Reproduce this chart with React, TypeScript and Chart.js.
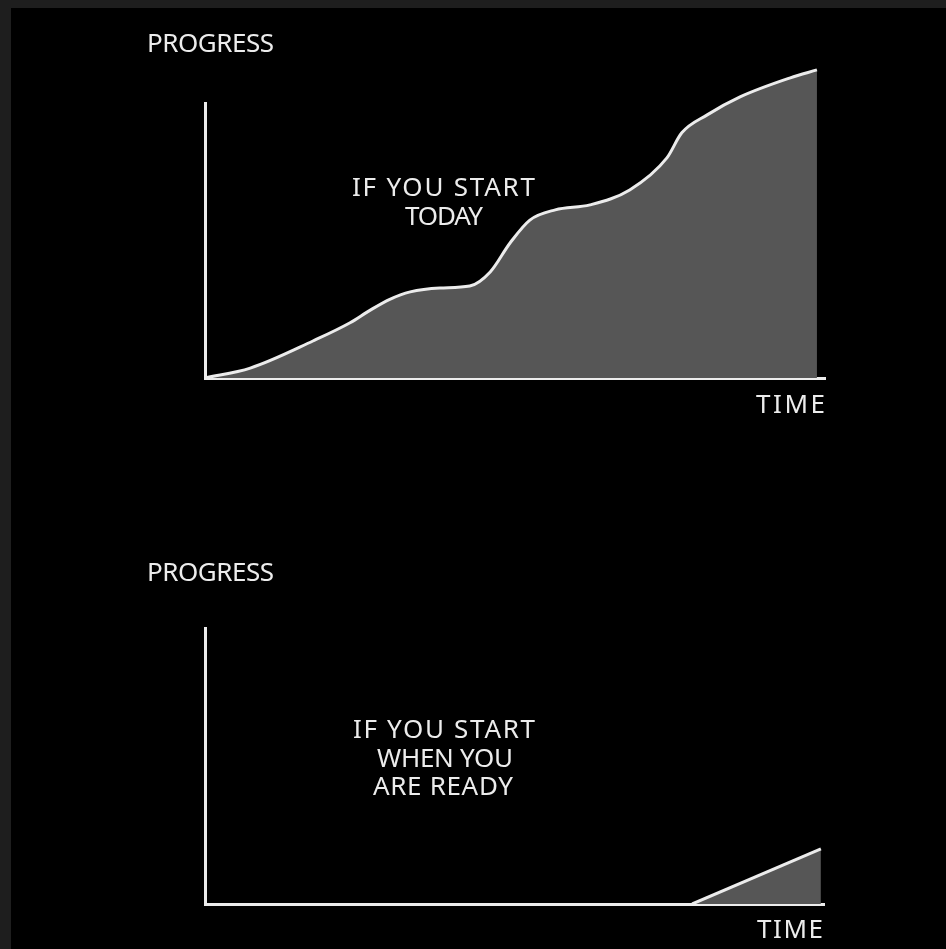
import { useEffect, useRef } from 'react';
import { Chart, registerables } from 'chart.js';

Chart.register(...registerables);

// ---- data (x: time 0..100, y: progress; axis line drawn up to 100) ----
const todayTime = [0, 7.3, 17.4, 23.4, 26.6, 29.8, 33.1, 37.9, 42.7, 46.0, 49.2, 52.4, 56.5, 62.1, 68.5, 74.5, 76.9, 81.0, 86.3, 94.4, 98.7];
const todayProgress = [0, 3.6, 13.4, 20.0, 24.5, 28.5, 31.2, 32.6, 33.3, 38.4, 48.9, 57.2, 60.9, 62.7, 68.1, 79.7, 88.8, 95.3, 101.8, 108.7, 111.6];

const readyTime = [78.7, 99.5];
const readyProgress = [0, 19.9];

const yAxisLabel = 'PROGRESS';
const xAxisLabel = 'TIME';
const todayCaption = ['IF YOU START', 'TODAY'];
const readyCaption = ['IF YOU START', 'WHEN YOU', 'ARE READY'];

const WHITE = '#ececec';
const FILL = '#565656';
const FONT = '26px "Noto Sans", "DejaVu Sans", sans-serif';

type TextItem = { text: string; x: number; y: number; w: number; align: 'left' | 'center' | 'right' };

const sketchText = {
  id: 'sketchText',
  afterDraw(chart: any, _args: any, opts: any) {
    const ctx = chart.ctx as CanvasRenderingContext2D;
    ctx.save();
    // y axis line from progress 0 up to axisTop
    const xs = chart.scales.x;
    const ys = chart.scales.y;
    const px = Math.round(xs.getPixelForValue(0) - 1.5) + 1.5;
    ctx.strokeStyle = WHITE;
    ctx.lineWidth = 3;
    ctx.lineCap = 'butt';
    ctx.beginPath();
    ctx.moveTo(px, ys.getPixelForValue(0) + 1.5);
    ctx.lineTo(px, ys.getPixelForValue(opts.axisTop));
    ctx.stroke();

    ctx.fillStyle = WHITE;
    ctx.font = FONT;
    ctx.textAlign = 'left';
    ctx.textBaseline = 'alphabetic';
    for (const it of (opts.items || []) as TextItem[]) {
      (ctx as any).letterSpacing = '0px';
      const m = ctx.measureText(it.text).width;
      const ls = it.text.length > 1 ? (it.w - m) / (it.text.length - 1) : 0;
      (ctx as any).letterSpacing = ls + 'px';
      const left = it.align === 'left' ? it.x : it.align === 'right' ? it.x - it.w : it.x - it.w / 2;
      ctx.fillText(it.text, left, it.y);
    }
    ctx.restore();
  },
};

function makeConfig(xs: number[], ys: number[], tension: number, yMax: number, padding: any, items: TextItem[]): any {
  return {
    type: 'line',
    data: {
      datasets: [
        {
          data: xs.map((x, i) => ({ x, y: ys[i] })),
          borderColor: WHITE,
          borderWidth: 3,
          backgroundColor: FILL,
          fill: 'origin',
          pointRadius: 0,
          tension,
          cubicInterpolationMode: tension > 0 ? 'monotone' : 'default',
        },
      ],
    },
    options: {
      responsive: false,
      animation: false,
      events: [],
      layout: { padding },
      scales: {
        x: {
          type: 'linear',
          min: 0,
          max: 100,
          ticks: { display: false },
          grid: { display: false, drawTicks: false },
          border: { display: true, color: WHITE, width: 3 },
        },
        y: {
          type: 'linear',
          min: 0,
          max: yMax,
          ticks: { display: false },
          grid: { display: false, drawTicks: false },
          border: { display: false },
        },
      },
      plugins: {
        legend: { display: false },
        title: { display: false },
        tooltip: { enabled: false },
        sketchText: { items, axisTop: 100 },
      },
    },
    plugins: [sketchText],
  };
}

export default function App() {
  const ref1 = useRef<HTMLCanvasElement>(null);
  const ref2 = useRef<HTMLCanvasElement>(null);

  useEffect(() => {
    const c1 = new Chart(
      ref1.current!,
      makeConfig(todayTime, todayProgress, 0.4, 113, { left: 205, right: 121, top: 66, bottom: 96 }, [
        { text: yAxisLabel, x: 147, y: 52, w: 127, align: 'left' },
        { text: xAxisLabel, x: 825, y: 413, w: 69, align: 'right' },
        { text: todayCaption[0], x: 443.5, y: 196, w: 183, align: 'center' },
        { text: todayCaption[1], x: 444, y: 225, w: 78, align: 'center' },
      ])
    );
    const c2 = new Chart(
      ref2.current!,
      makeConfig(readyTime, readyProgress, 0, 100, { left: 205, right: 122, top: 153, bottom: 45 }, [
        { text: yAxisLabel, x: 147, y: 107, w: 127, align: 'left' },
        { text: xAxisLabel, x: 823, y: 464, w: 66, align: 'right' },
        { text: readyCaption[0], x: 444, y: 264, w: 182, align: 'center' },
        { text: readyCaption[1], x: 445, y: 293, w: 136, align: 'center' },
        { text: readyCaption[2], x: 443, y: 321, w: 140, align: 'center' },
      ])
    );
    return () => {
      c1.destroy();
      c2.destroy();
    };
  }, []);

  return (
    <div style={{ position: 'fixed', left: 0, top: 0, width: 946, height: 949, background: '#1e1e1e', overflow: 'hidden' }}>
      <div style={{ position: 'absolute', left: 11, top: 8, right: 0, bottom: 0, background: '#000' }} />
      <canvas ref={ref1} width={946} height={474} style={{ position: 'absolute', left: 0, top: 0, width: 946, height: 474 }} />
      <canvas ref={ref2} width={946} height={475} style={{ position: 'absolute', left: 0, top: 474, width: 946, height: 475 }} />
    </div>
  );
}
